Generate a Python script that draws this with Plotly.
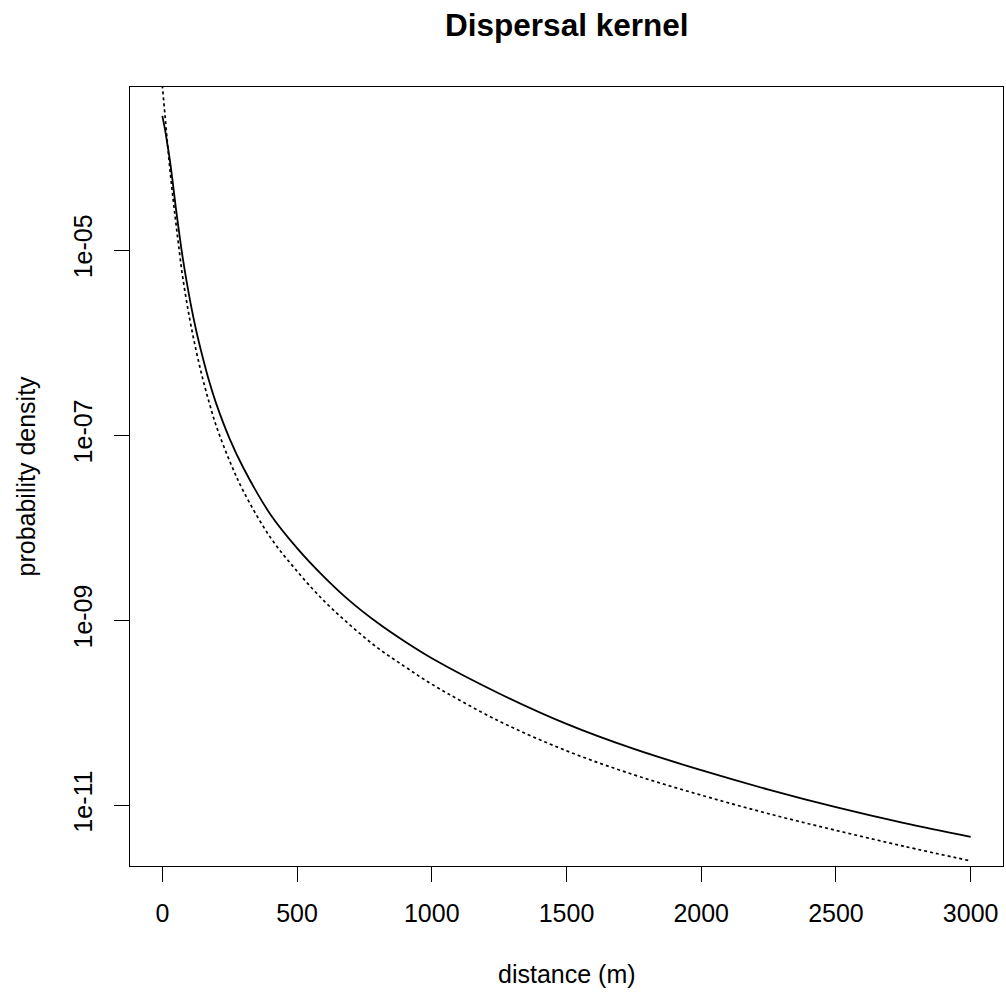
import plotly.graph_objects as go

# distance (m)
distance = [0, 10, 20, 30, 40, 50, 60, 75, 100, 125, 150, 175, 200, 250, 300,
            400, 500, 600, 700, 800, 900, 1000, 1250, 1500, 1750, 2000, 2250,
            2500, 2750, 3000]

# solid curve (probability density)
density_solid = [2.82e-4, 2.00e-4, 1.32e-4, 8.51e-5, 5.01e-5, 2.88e-5, 1.74e-5,
                 8.51e-6, 3.16e-6, 1.38e-6, 6.92e-7, 3.72e-7, 2.19e-7, 9.12e-8,
                 4.47e-8, 1.41e-8, 6.03e-9, 2.95e-9, 1.58e-9, 9.33e-10,
                 5.89e-10, 3.89e-10, 1.62e-10, 7.59e-11, 4.07e-11, 2.40e-11,
                 1.48e-11, 9.55e-12, 6.46e-12, 4.57e-12]

# dotted curve (probability density)
density_dotted = [6.03e-4, 2.82e-4, 1.32e-4, 6.61e-5, 3.55e-5, 2.00e-5, 1.15e-5,
                  5.25e-6, 1.91e-6, 8.32e-7, 4.07e-7, 2.19e-7, 1.26e-7, 5.25e-8,
                  2.51e-8, 7.94e-9, 3.39e-9, 1.62e-9, 8.71e-10, 5.01e-10,
                  3.16e-10, 2.04e-10, 8.13e-11, 3.89e-11, 2.14e-11, 1.29e-11,
                  8.13e-12, 5.37e-12, 3.63e-12, 2.51e-12]

x_ticks = [0, 500, 1000, 1500, 2000, 2500, 3000]
y_ticks = [1e-5, 1e-7, 1e-9, 1e-11]
y_tick_labels = ["1e-05", "1e-07", "1e-09", "1e-11"]

FONT = "Liberation Sans, Arial, sans-serif"

fig = go.Figure()
fig.add_trace(go.Scatter(x=distance, y=density_solid, mode="lines",
                         line=dict(color="black", width=1.8, shape="spline",
                                   smoothing=1.0)))
fig.add_trace(go.Scatter(x=distance, y=density_dotted, mode="lines",
                         line=dict(color="black", width=1.7, dash="3px,3px",
                                   shape="spline", smoothing=1.0)))

fig.update_layout(
    width=1006, height=998,
    margin=dict(l=130, r=3, t=87, b=132),
    paper_bgcolor="white", plot_bgcolor="white",
    showlegend=False,
    font=dict(family=FONT, size=25, color="black"),
    title=dict(text="<b>Dispersal kernel</b>", x=0.5634, xanchor="center",
               y=1 - 25 / 998, yanchor="middle",
               font=dict(family=FONT, size=31.5, color="black")),
)

fig.update_xaxes(
    range=[-120, 3120], tickmode="array", tickvals=x_ticks,
    ticks="outside", ticklen=15, tickwidth=1, tickcolor="black",
    showline=True, linecolor="black", linewidth=1, mirror=True,
    showgrid=False, zeroline=False, ticklabelstandoff=10,
    tickfont=dict(family=FONT, size=25, color="black"),
)
fig.update_yaxes(
    type="log", range=[-11.655, -3.238], tickmode="array",
    tickvals=y_ticks, ticktext=y_tick_labels, tickangle=-90,
    ticks="outside", ticklen=15, tickwidth=1, tickcolor="black",
    showline=True, linecolor="black", linewidth=1, mirror=True,
    showgrid=False, zeroline=False, ticklabelstandoff=12,
    tickfont=dict(family=FONT, size=25, color="black"),
)

fig.add_annotation(text="distance (m)", xref="paper", yref="paper",
                   x=0.5, y=0, yshift=-108, xanchor="center", yanchor="middle",
                   showarrow=False, font=dict(family=FONT, size=25, color="black"))
fig.add_annotation(text="probability density", xref="paper", yref="paper",
                   x=0, y=0.5, xshift=-105, xanchor="center", yanchor="middle",
                   textangle=-90, showarrow=False,
                   font=dict(family=FONT, size=25, color="black"))

fig.write_html("out.html")
